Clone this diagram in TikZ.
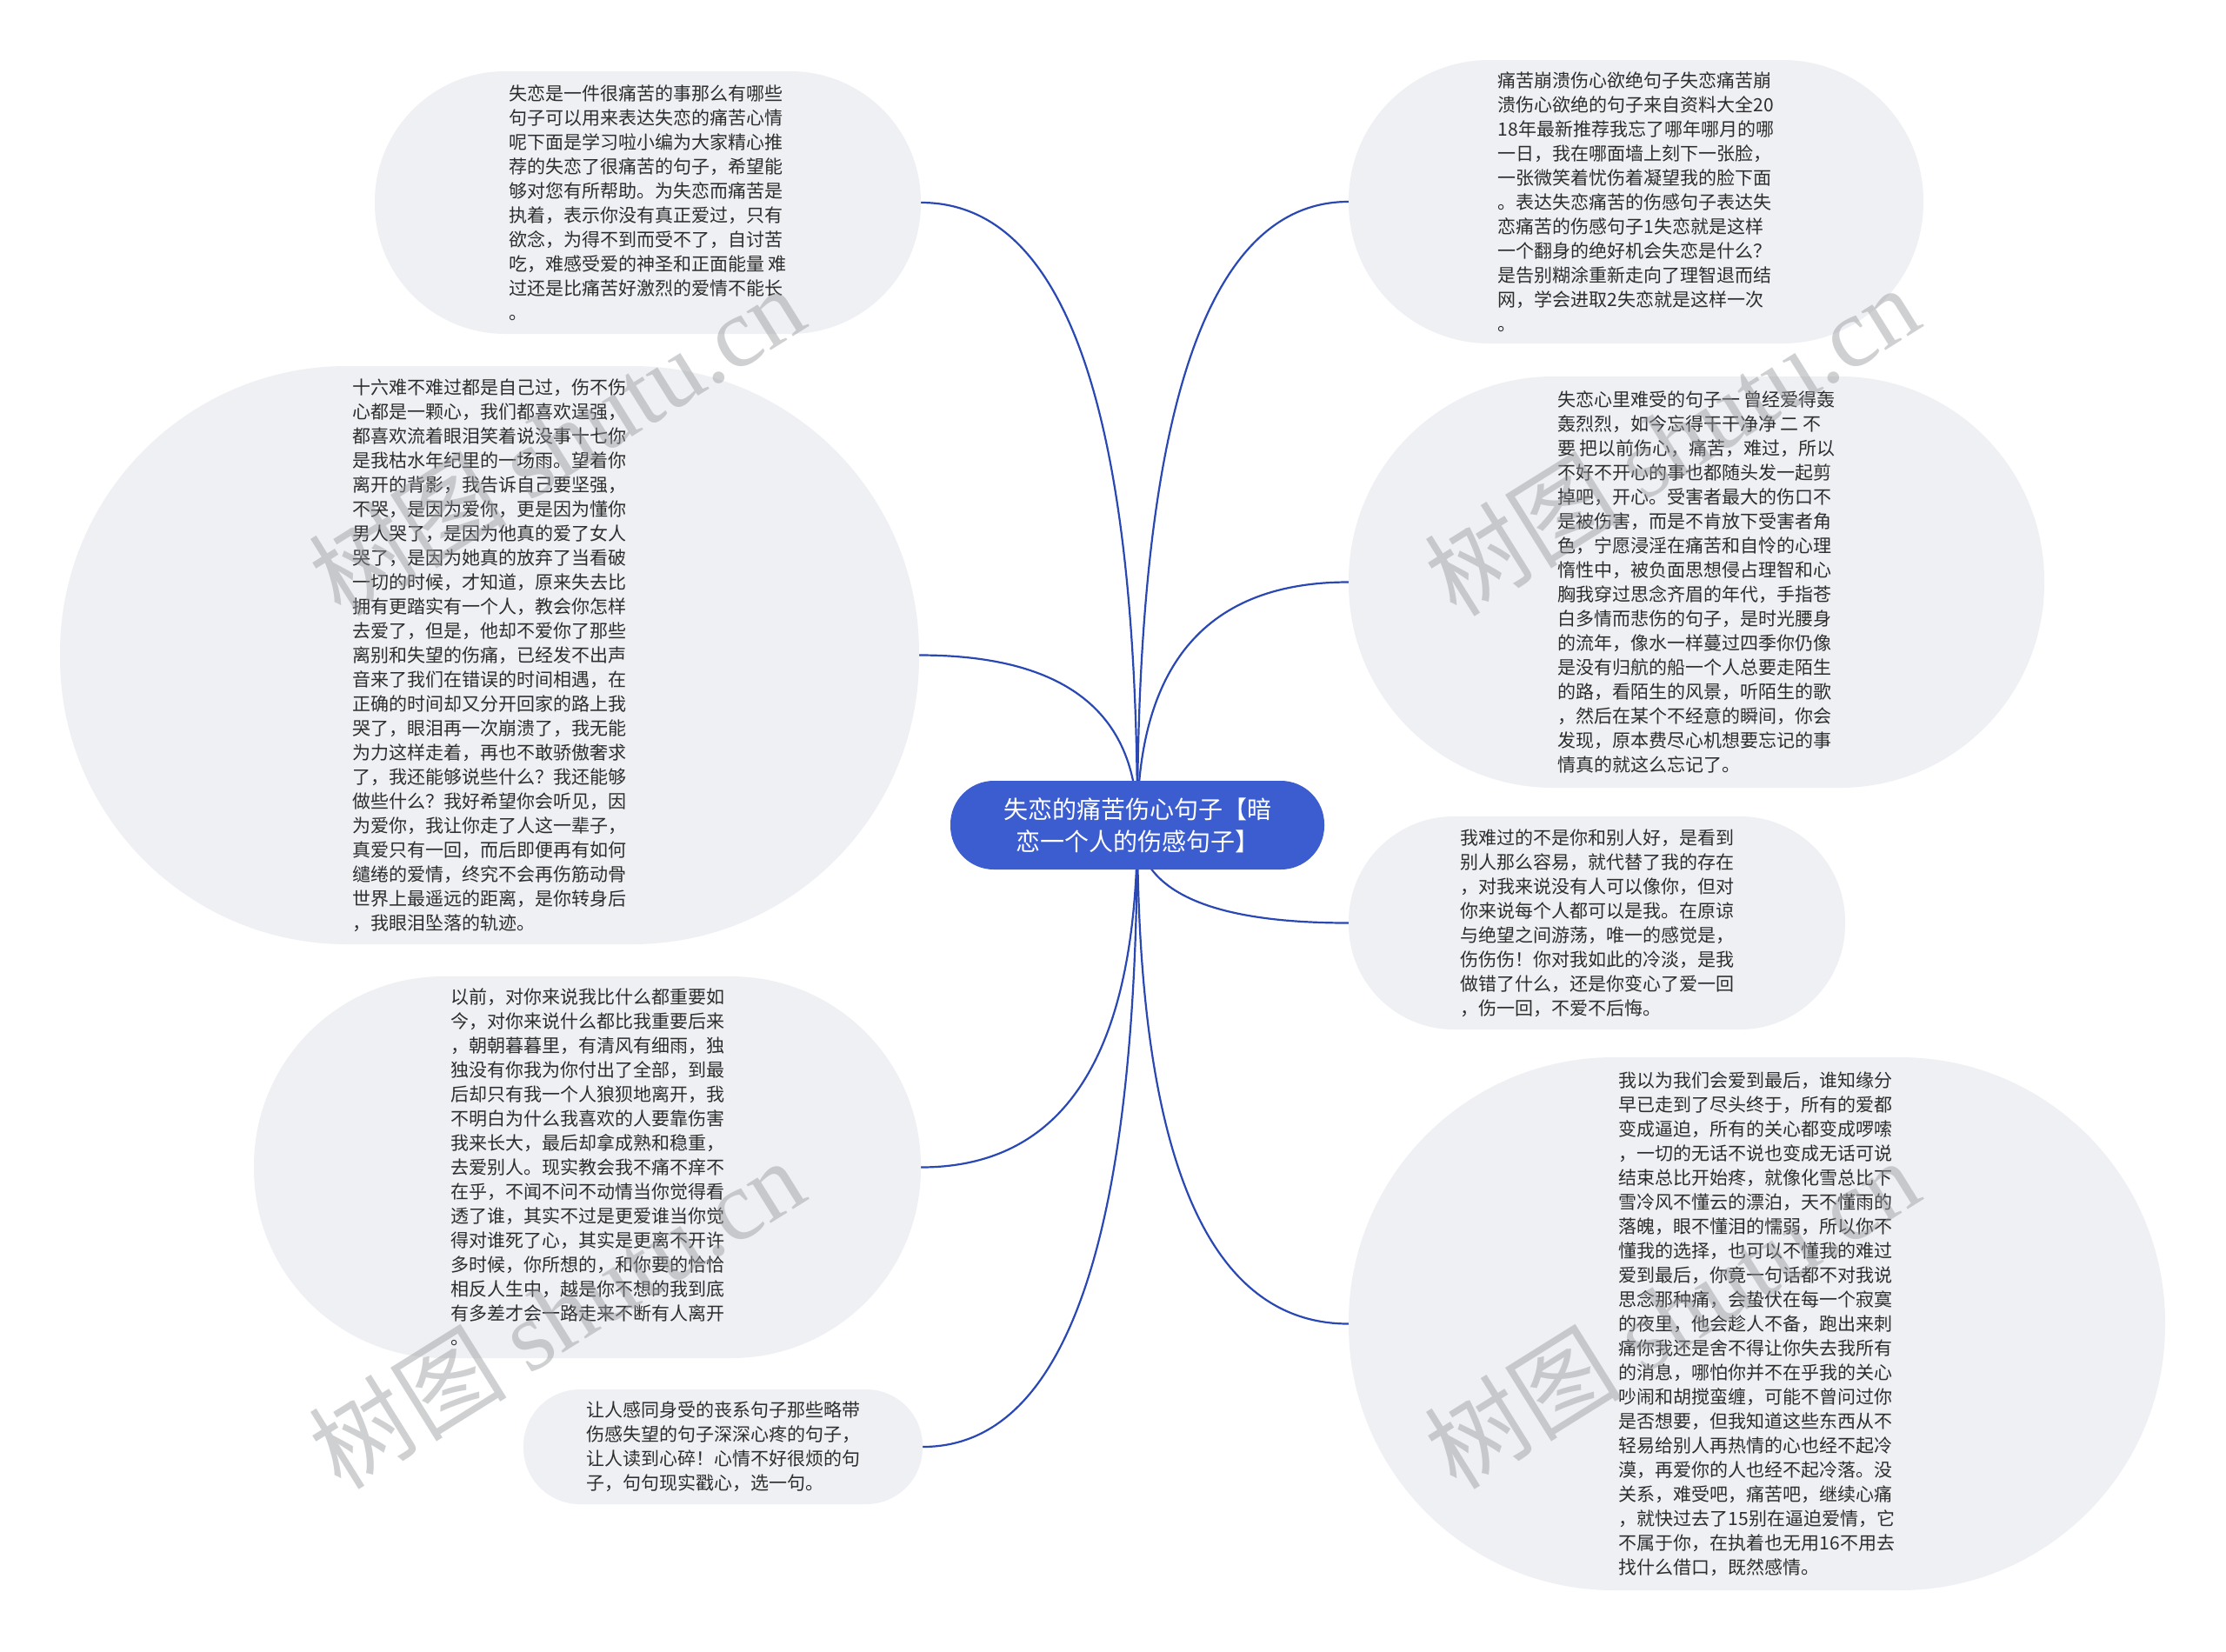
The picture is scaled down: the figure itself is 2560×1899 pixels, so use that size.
\documentclass[tikz,border=0pt]{standalone}
\usepackage{fontspec}
\setmainfont{Noto Sans CJK SC}
\newfontfamily\wmserif{Liberation Serif}
\usetikzlibrary{calc}
\definecolor{rootblue}{RGB}{60,93,208}
\definecolor{leaffill}{RGB}{238,240,243}
\definecolor{txt}{RGB}{45,45,45}
\definecolor{edgeblue}{RGB}{42,72,180}
\definecolor{wmgray}{RGB}{150,152,156}
\pgfdeclarelayer{bgl}
\pgfdeclarelayer{edgel}
\pgfdeclarelayer{wml}
\pgfsetlayers{bgl,edgel,main,wml}
\begin{document}
\begin{tikzpicture}[x=1pt,y=-1pt,
  leaf/.style={fill=leaffill, draw=none, align=left, text=txt,
    font=\fontsize{21}{28}\selectfont, inner sep=0pt},
  rootnode/.style={fill=rootblue, draw=none, align=center, text=white,
    font=\fontsize{28}{37}\selectfont, inner sep=0pt, rounded corners=50pt},
  link/.style={draw=edgeblue, line width=2.2pt},
  wm/.style={text=wmgray, text opacity=0.45, font=\fontsize{114}{120}\selectfont, inner sep=0pt}]
\useasboundingbox (0,0) rectangle (2560,1899);
\begin{pgfonlayer}{bgl}
\fill[white] (0,0) rectangle (2560,1899);
\end{pgfonlayer}

% root
\node[rootnode, minimum width=430pt, minimum height=102pt] (root) at (1308,949)
  {失恋的痛苦伤心句子【暗\\恋一个人的伤感句子】};

% left nodes
\node[leaf, minimum width=628pt, minimum height=302pt, rounded corners=150pt] (n1) at (745,233)
 {失恋是一件很痛苦的事那么有哪些\\
句子可以用来表达失恋的痛苦心情\\
呢下面是学习啦小编为大家精心推\\
荐的失恋了很痛苦的句子，希望能\\
够对您有所帮助。为失恋而痛苦是\\
执着，表示你没有真正爱过，只有\\
欲念，为得不到而受不了，自讨苦\\
吃，难感受爱的神圣和正面能量 难\\
过还是比痛苦好激烈的爱情不能长\\
。};

\node[leaf, minimum width=988pt, minimum height=665pt, rounded corners=330pt] (n2) at (563,753.5)
 {十六难不难过都是自己过，伤不伤\\
心都是一颗心，我们都喜欢逞强，\\
都喜欢流着眼泪笑着说没事十七你\\
是我枯水年纪里的一场雨。望着你\\
离开的背影，我告诉自己要坚强，\\
不哭，是因为爱你，更是因为懂你\\
男人哭了，是因为他真的爱了女人\\
哭了，是因为她真的放弃了当看破\\
一切的时候，才知道，原来失去比\\
拥有更踏实有一个人，教会你怎样\\
去爱了，但是，他却不爱你了那些\\
离别和失望的伤痛，已经发不出声\\
音来了我们在错误的时间相遇，在\\
正确的时间却又分开回家的路上我\\
哭了，眼泪再一次崩溃了，我无能\\
为力这样走着，再也不敢骄傲奢求\\
了，我还能够说些什么？我还能够\\
做些什么？我好希望你会听见，因\\
为爱你，我让你走了人这一辈子，\\
真爱只有一回，而后即便再有如何\\
缱绻的爱情，终究不会再伤筋动骨\\
世界上最遥远的距离，是你转身后\\
，我眼泪坠落的轨迹。};

\node[leaf, minimum width=767pt, minimum height=439pt, rounded corners=218pt] (n3) at (675.5,1342.5)
 {以前，对你来说我比什么都重要如\\
今，对你来说什么都比我重要后来\\
，朝朝暮暮里，有清风有细雨，独\\
独没有你我为你付出了全部，到最\\
后却只有我一个人狼狈地离开，我\\
不明白为什么我喜欢的人要靠伤害\\
我来长大，最后却拿成熟和稳重，\\
去爱别人。现实教会我不痛不痒不\\
在乎，不闻不问不动情当你觉得看\\
透了谁，其实不过是更爱谁当你觉\\
得对谁死了心，其实是更离不开许\\
多时候，你所想的，和你要的恰恰\\
相反人生中，越是你不想的我到底\\
有多差才会一路走来不断有人离开\\
。};

\node[leaf, minimum width=459pt, minimum height=132pt, rounded corners=65pt] (n4) at (831.5,1664)
 {让人感同身受的丧系句子那些略带\\
伤感失望的句子深深心疼的句子，\\
让人读到心碎！心情不好很烦的句\\
子，句句现实戳心，选一句。};

% right nodes
\node[leaf, minimum width=661pt, minimum height=326pt, rounded corners=162pt] (n5) at (1881.5,232)
 {痛苦崩溃伤心欲绝句子失恋痛苦崩\\
溃伤心欲绝的句子来自资料大全20\\
18年最新推荐我忘了哪年哪月的哪\\
一日，我在哪面墙上刻下一张脸，\\
一张微笑着忧伤着凝望我的脸下面\\
。表达失恋痛苦的伤感句子表达失\\
恋痛苦的伤感句子1失恋就是这样\\
一个翻身的绝好机会失恋是什么？\\
是告别糊涂重新走向了理智退而结\\
网，学会进取2失恋就是这样一次\\
。};

\node[leaf, minimum width=800pt, minimum height=473pt, rounded corners=235pt] (n6) at (1951,669.5)
 {失恋心里难受的句子一 曾经爱得轰\\
轰烈烈，如今忘得干干净净 二 不\\
要 把以前伤心，痛苦，难过，所以\\
不好不开心的事也都随头发一起剪\\
掉吧，开心。受害者最大的伤口不\\
是被伤害，而是不肯放下受害者角\\
色，宁愿浸淫在痛苦和自怜的心理\\
惰性中，被负面思想侵占理智和心\\
胸我穿过思念齐眉的年代，手指苍\\
白多情而悲伤的句子，是时光腰身\\
的流年，像水一样蔓过四季你仍像\\
是没有归航的船一个人总要走陌生\\
的路，看陌生的风景，听陌生的歌\\
，然后在某个不经意的瞬间，你会\\
发现，原本费尽心机想要忘记的事\\
情真的就这么忘记了。};

\node[leaf, minimum width=571pt, minimum height=245pt, rounded corners=121pt] (n7) at (1836.5,1061.5)
 {我难过的不是你和别人好，是看到\\
别人那么容易，就代替了我的存在\\
，对我来说没有人可以像你，但对\\
你来说每个人都可以是我。在原谅\\
与绝望之间游荡，唯一的感觉是，\\
伤伤伤！你对我如此的冷淡，是我\\
做错了什么，还是你变心了爱一回\\
，伤一回，不爱不后悔。};

\node[leaf, minimum width=939pt, minimum height=613pt, rounded corners=305pt] (n8) at (2020.5,1522.5)
 {我以为我们会爱到最后，谁知缘分\\
早已走到了尽头终于，所有的爱都\\
变成逼迫，所有的关心都变成啰嗦\\
，一切的无话不说也变成无话可说\\
结束总比开始疼，就像化雪总比下\\
雪冷风不懂云的漂泊，天不懂雨的\\
落魄，眼不懂泪的懦弱，所以你不\\
懂我的选择，也可以不懂我的难过\\
爱到最后，你竟一句话都不对我说\\
思念那种痛，会蛰伏在每一个寂寞\\
的夜里，他会趁人不备，跑出来刺\\
痛你我还是舍不得让你失去我所有\\
的消息，哪怕你并不在乎我的关心\\
吵闹和胡搅蛮缠，可能不曾问过你\\
是否想要，但我知道这些东西从不\\
轻易给别人再热情的心也经不起冷\\
漠，再爱你的人也经不起冷落。没\\
关系，难受吧，痛苦吧，继续心痛\\
，就快过去了15别在逼迫爱情，它\\
不属于你，在执着也无用16不用去\\
找什么借口，既然感情。};

% connectors
\begin{pgfonlayer}{edgel}
\foreach \n/\a in {n1/east,n2/east,n3/east,n4/east,n5/west,n6/west,n7/west,n8/west}{
  \draw[link] (root.center)
    .. controls ($(root.center)!0.6667!(root.center |- \n.\a)$)
    and ($(\n.\a)!0.6667!(root.center |- \n.\a)$) .. (\n.\a);
}
\end{pgfonlayer}

% watermarks
\begin{pgfonlayer}{wml}
\node[wm, rotate=32] (w1) at (640,506) {树图 {\wmserif shutu.cn}};
\node[wm, rotate=32] (w2) at (1922,506) {树图 {\wmserif shutu.cn}};
\node[wm, rotate=32] (w3) at (640,1510) {树图 {\wmserif shutu.cn}};
\node[wm, rotate=32] (w4) at (1922,1510) {树图 {\wmserif shutu.cn}};
\end{pgfonlayer}
\end{tikzpicture}
\end{document}
